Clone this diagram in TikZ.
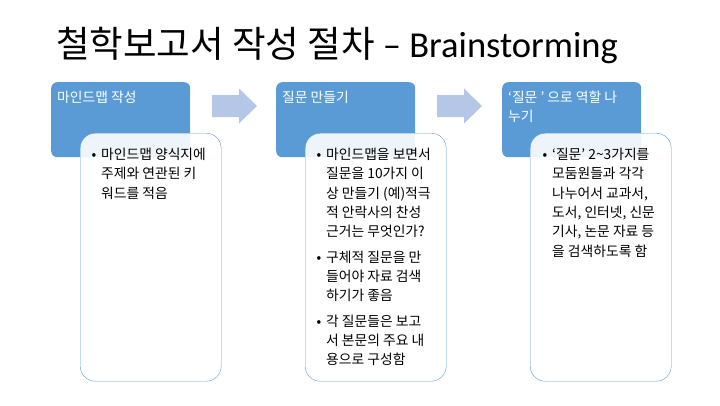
\documentclass[tikz,border=0pt]{standalone}
\usepackage{fontspec}
\setmainfont{Noto Sans CJK KR}
\newfontfamily\latinfont{Carlito}
\definecolor{stepblue}{HTML}{5B9BD5}
\definecolor{arrowblue}{HTML}{B4C7E7}

\begin{document}
\begin{tikzpicture}[x=1pt, y=-1pt,
    headbox/.style={fill=stepblue, rounded corners=6pt, inner sep=0pt, anchor=north west,
      minimum width=139pt, minimum height=75pt},
    headtext/.style={text=white, font=\fontsize{13.8}{19}\selectfont, align=left, inner sep=0pt, anchor=north west},
    bodybox/.style={draw=stepblue, fill=white, fill opacity=0.9, rounded corners=15pt, inner sep=0pt,
      anchor=north west, minimum width=141pt, minimum height=248pt},
    bodytext/.style={font=\fontsize{13.8}{19.3}\selectfont, align=left, inner sep=0pt, anchor=north west},
    blockarrow/.style={fill=arrowblue}]
  \useasboundingbox (0,0) rectangle (720,405);

  \node[anchor=base west, inner sep=0pt, font=\fontsize{36.5}{40}\selectfont] (title) at (56,57)
    {철학보고서 작성 절차 {\latinfont – Brainstorming}};

  % step boxes
  \node[headbox] (head1) at (51,82) {};
  \node[headbox] (head2) at (276,82) {};
  \node[headbox] (head3) at (502,82) {};

  \node[headtext] (label1) at (57,91) {마인드맵 작성};
  \node[headtext] (label2) at (282,91) {질문 만들기};
  \node[headtext] (label3) at (508,91) {‘질문 ’ 으로 역할 나\\누기};

  \node[bodybox] (body1) at (80,133) {};
  \node[bodybox] (body2) at (305,133) {};
  \node[bodybox] (body3) at (530,133) {};

  \node[bodytext] (text1) at (101,148)
    {\llap{•\hspace{5pt}}마인드맵 양식지에\\주제와 연관된 키\\워드를 적음};
  \node[bodytext] (text2) at (326,148)
    {\llap{•\hspace{5pt}}마인드맵을 보면서\\질문을 10가지 이\\상 만들기 (예)적극\\적 안락사의 찬성\\근거는 무엇인가?\\[6pt]
     \llap{•\hspace{5pt}}구체적 질문을 만\\들어야 자료 검색\\하기가 좋음\\[6pt]
     \llap{•\hspace{5pt}}각 질문들은 보고\\서 본문의 주요 내\\용으로 구성함};
  \node[bodytext] (text3) at (552,148)
    {\llap{•\hspace{5pt}}‘질문’ 2\textasciitilde3가지를\\모둠원들과 각각\\나누어서 교과서,\\도서, 인터넷, 신문\\기사, 논문 자료 등\\을 검색하도록 함};

  % arrows between steps
  \coordinate (arr1) at (212,106);
  \coordinate (arr2) at (437,106);
  \foreach \a in {arr1, arr2}
    \fill[blockarrow] (\a) ++(0,-11) -- ++(27,0) -- ++(0,-6.5) -- ++(18,17.5)
      -- ++(-18,17.5) -- ++(0,-6.5) -- ++(-27,0) -- cycle;
\end{tikzpicture}
\end{document}
